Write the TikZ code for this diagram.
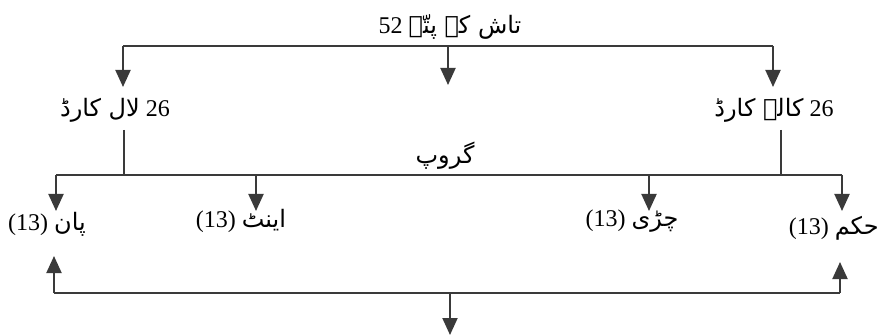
\documentclass[tikz,border=0pt]{standalone}
\usepackage{fontspec}
\setmainfont{Liberation Serif}
\newfontfamily\urdu[Script=Arabic]{DejaVu Sans}
\TeXXeTstate=1
\usetikzlibrary{arrows.meta}
\definecolor{ln}{HTML}{3A3A3A}
\newcommand{\ur}[1]{{\urdu\beginR #1\endR}}
\tikzset{
  lbl/.style={inner sep=0pt, font=\fontsize{24}{28}\selectfont, text=black},
  wire/.style={draw=ln, line width=2pt},
  arr/.style={wire, -{Triangle[width=15pt,length=17pt]}}
}
\begin{document}
\begin{tikzpicture}[x=1pt,y=-1pt]
\useasboundingbox (0,0) rectangle (882,336);
% labels
\node[lbl] (title) at (450,27) {52 \ur{تاش کے پتّے}};
\node[lbl] (red) at (115,110) {\ur{لال کارڈ} 26};
\node[lbl] (black) at (774,110) {\ur{کالے کارڈ} 26};
\node[lbl] (grp) at (445,156) {\ur{گروپ}};
\node[lbl, anchor=west] (paan) at (8,224) {(13) \ur{پان}};
\node[lbl] (eent) at (241,221) {(13) \ur{اینٹ}};
\node[lbl] (chiri) at (632,221) {(13) \ur{چڑی}};
\node[lbl, anchor=east] (hukm) at (879,228) {(13) \ur{حکم}};
% coordinates
\coordinate (t1) at (123,46);
\coordinate (t2) at (448,46);
\coordinate (t3) at (773,46);
\coordinate (t2e) at (448,85);
\coordinate (r1) at (124,130);
\coordinate (r2) at (124,175);
\coordinate (b1) at (781,130);
\coordinate (b2) at (781,175);
\coordinate (m1) at (56,175);
\coordinate (m2) at (256,175);
\coordinate (m3) at (649,175);
\coordinate (m4) at (842,175);
\coordinate (u1) at (54,293);
\coordinate (u2) at (840,293);
\coordinate (d1) at (450,293);
\coordinate (d1e) at (450,335);
% top bus
\draw[wire] (t1) -- (t3);
\draw[arr] (t1) -- (t1 |- 0,87);
\draw[arr] (t2) -- (t2e);
\draw[arr] (t3) -- (t3 |- 0,87);
% middle
\draw[wire] (r1) -- (r2);
\draw[wire] (b1) -- (b2);
\draw[wire] (m1) -- (m4);
\draw[arr] (m1) -- (m1 |- 0,211);
\draw[arr] (m2) -- (m2 |- 0,211);
\draw[arr] (m3) -- (m3 |- 0,211);
\draw[arr] (m4) -- (m4 |- 0,211);
% bottom
\draw[wire] (u1) -- (u2);
\draw[arr] (u1) -- (u1 |- 0,256);
\draw[arr] (u2) -- (u2 |- 0,262);
\draw[arr] (d1) -- (d1e);
\end{tikzpicture}
\end{document}
